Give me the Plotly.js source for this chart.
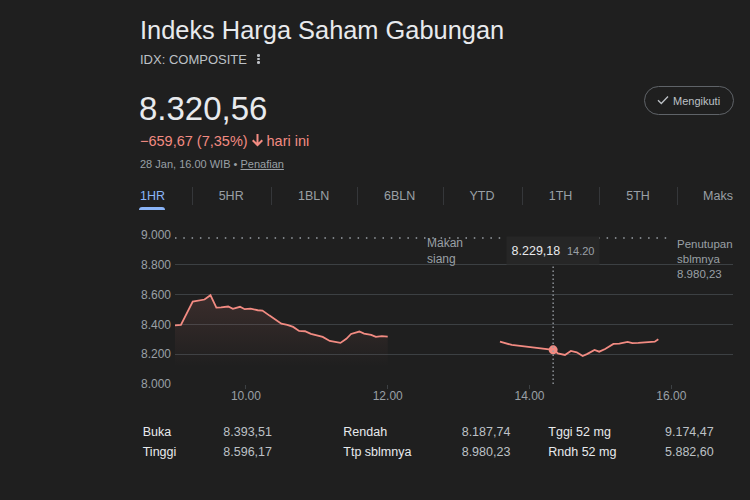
<!DOCTYPE html>
<html><head><meta charset="utf-8">
<script src="https://cdn.plot.ly/plotly-3.0.1.min.js"></script>
<style>
html,body{margin:0;padding:0;background:#1f1f1f;}
body{width:750px;height:500px;overflow:hidden;position:relative;font-family:'Liberation Sans',Arial,sans-serif;}
.t{position:absolute;white-space:nowrap;line-height:1;}
#chart{position:absolute;left:0;top:0;width:750px;height:500px;}
</style></head><body>
<div id="chart"></div>
<div id="ui"></div>
<script>
// ---------- data ----------
const indexName = 'Indeks Harga Saham Gabungan';
const ticker = 'IDX: COMPOSITE';
const lastPrice = 8320.56;
const dayChange = -659.67;
const dayChangePct = 7.35;
const asOfText = '28 Jan, 16.00 WIB';
const prevClose = 8980.23;

const session1Times = ['09:00','09:05','09:15','09:22','09:25','09:30','09:35','09:39','09:45','09:49','09:55','09:59','10:04','10:10','10:14','10:20','10:26','10:30','10:35','10:40','10:45','10:50','10:55','10:59','11:05','11:11','11:15','11:20','11:25','11:29','11:36','11:40','11:46','11:50','11:55','12:00'];
const session1Values = [8393.51,8397,8553,8565,8567,8596.17,8513,8514,8520,8504,8518,8502,8506,8495,8493,8459,8430,8405,8397,8383,8356,8354,8336,8327,8316,8289,8282,8276,8303,8336,8352,8338,8330,8316,8321,8318];

const session2Times = ['13:35','13:45','14:20','14:24','14:30','14:35','14:40','14:45','14:49','14:55','14:59','15:04','15:11','15:16','15:23','15:27','15:32','15:43','15:46','15:49'];
const session2Values = [8284,8262,8229.18,8206,8195,8222,8213,8187.74,8202,8229,8217,8235,8269,8271,8282,8274,8276,8280,8284,8300];

const cursorTime = '14:20';
const xTickTimes = ['10:00','12:00','14:00','16:00'];
const yTickValues = [8000,8200,8400,8600,8800,9000];

const tabLabels = ['1HR','5HR','1BLN','6BLN','YTD','1TH','5TH','Maks'];
const statLabels = ['Buka','Tinggi','Rendah','Ttp sblmnya','Tggi 52 mg','Rndh 52 mg'];
const statValues = [8393.51,8596.17,8187.74,8980.23,9174.47,5882.60];

// ---------- helpers ----------
function fmtId(v, d){
  const neg = v < 0;
  const s = Math.abs(v).toFixed(d);
  const parts = s.split('.');
  const ip = parts[0].replace(/\B(?=(\d{3})+(?!\d))/g, '.');
  return (neg ? '\u2212' : '') + (parts[1] ? ip + ',' + parts[1] : ip);
}
const day = '2026-01-28 ';
const FONT = "'Liberation Sans', Arial, sans-serif";

// ---------- HTML header / tabs / stats ----------
const ui = document.getElementById('ui');
function addText(txt, left, top, size, color, extra){
  const d = document.createElement('div');
  d.className = 't';
  d.style.left = left + 'px'; d.style.top = top + 'px';
  d.style.fontSize = size + 'px'; d.style.color = color;
  if (extra) Object.assign(d.style, extra);
  d.innerHTML = txt;
  ui.appendChild(d);
  return d;
}
function addBox(left, top, w, h, style){
  const d = document.createElement('div');
  d.style.position = 'absolute';
  d.style.left = left + 'px'; d.style.top = top + 'px';
  d.style.width = w + 'px'; d.style.height = h + 'px';
  Object.assign(d.style, style);
  ui.appendChild(d);
  return d;
}

addText(indexName, 140, 17.8, 25.4, '#e8eaed');
addText(ticker, 140, 53, 13, '#bdc1c6');
[55.5, 59, 62.5].forEach(y => addBox(257, y - 1.2, 2.6, 2.6, {background:'#bdc1c6', borderRadius:'50%'}));
addText(fmtId(lastPrice, 2), 139, 91.5, 33, '#e8eaed');
addText(fmtId(dayChange, 2) + ' (' + fmtId(dayChangePct, 2) + '%)', 140, 133.7, 14.5, '#f28b82');
addText('<svg width="11" height="13" viewBox="0 0 11 13"><path d="M4.5 0h2v8.6l3.1-3.1 1.4 1.4-5.5 5.6-5.5-5.6 1.4-1.4 3.1 3.1z" fill="#f28b82"/></svg>', 251.5, 134, 14, '#f28b82');
addText('hari ini', 266.5, 133.7, 14.5, '#f28b82');
addText(asOfText + ' \u2022 <span style="text-decoration:underline">Penafian</span>', 140, 159, 11, '#9aa0a6');

// follow button
addBox(644, 86, 88, 27, {border:'1px solid #5f6368', borderRadius:'15px'});
addText('<svg width="12" height="10" viewBox="0 0 12 10"><path d="M1 5.2l3.3 3.3L11 1.5" fill="none" stroke="#bdc1c6" stroke-width="1.3"/></svg>', 656.5, 95, 11, '#bdc1c6');
addText('Mengikuti', 673, 95.5, 11, '#bdc1c6');

// tabs
const tabCenters = [152.5, 231.2, 313.7, 399.7, 482, 560.5, 638, 718];
const sepX = [191.7, 270.7, 356.7, 442.7, 521.7, 599.3, 676.7];
tabLabels.forEach((lab, i) => {
  addText(lab, tabCenters[i] - 40, 190.1, 12.5, i === 0 ? '#8ab4f8' : '#9aa0a6', {width:'80px', textAlign:'center'});
});
addBox(139, 207, 26, 3, {background:'#8ab4f8', borderRadius:'3px 3px 0 0'});
sepX.forEach(x => addBox(x, 187, 1, 18, {background:'#35373a'}));

// stats grid
const statCols = [[142.7, 223.3], [343.3, 461.7], [548.3, 665]];
const rowTops = [426.4, 446.4];
statLabels.forEach((lab, i) => {
  const c = Math.floor(i / 2), r = i % 2;
  addText(lab, statCols[c][0], rowTops[r], 12.5, '#e8eaed');
  addText(fmtId(statValues[i], 2), statCols[c][1], rowTops[r], 12.5, '#bdc1c6');
});

// ---------- Plotly chart ----------
const lineColor = '#f28b82';
const cursorIdx = session2Times.indexOf(cursorTime);
const cursorValue = session2Values[cursorIdx];

const traces = [
  {type:'scatter', mode:'lines', x:session1Times.map(t => day + t), y:session1Values,
   line:{color:lineColor, width:1.8}, fill:'tozeroy',
   fillgradient:{type:'vertical', start:8120, stop:8600,
     colorscale:[[0,'rgba(242,139,130,0)'],[1,'rgba(242,139,130,0.13)']]},
   hoverinfo:'skip'},
  {type:'scatter', mode:'lines', x:session2Times.map(t => day + t), y:session2Values,
   line:{color:lineColor, width:1.8}, hoverinfo:'skip'},
  {type:'scatter', mode:'markers', x:[day + cursorTime], y:[cursorValue],
   marker:{size:9, color:lineColor}, hoverinfo:'skip'}
];

const plotTop = 235, plotH = 149;
const py = p => (plotTop + plotH - p) / plotH;   // pixel -> paper y
const px = p => (p - 175) / 558;                 // pixel -> paper x

const layout = {
  width:750, height:500,
  margin:{l:175, r:17, t:plotTop, b:500 - plotTop - plotH, pad:0},
  paper_bgcolor:'rgba(0,0,0,0)', plot_bgcolor:'rgba(0,0,0,0)',
  showlegend:false, separators:',.',
  font:{family:FONT, color:'#9aa0a6', size:12},
  xaxis:{type:'date', range:[day + '09:00', day + '16:52:12'],
    tickvals:xTickTimes.map(t => day + t), tickformat:'%H.%M',
    showgrid:false, zeroline:false, showline:false,
    ticks:'outside', ticklen:4, tickcolor:'#3c4043', ticklabelstandoff:-3,
    tickfont:{family:FONT, size:12, color:'#9aa0a6'}, fixedrange:true},
  yaxis:{range:[8000, 9000], tickvals:yTickValues, tickformat:',.0f',
    showgrid:true, gridcolor:'#3c4043', gridwidth:1, zeroline:false, showline:false,
    ticks:'', ticklabelstandoff:3,
    tickfont:{family:FONT, size:12, color:'#9aa0a6'}, fixedrange:true},
  shapes:[
    {type:'line', xref:'x', yref:'y', x0:day + '09:00', x1:day + '16:00', y0:prevClose, y1:prevClose,
     line:{color:'#9aa0a6', width:1.5, dash:'1.5px,6.8px'}},
    {type:'line', xref:'x', yref:'paper', x0:day + cursorTime, x1:day + cursorTime, y0:0, y1:py(265),
     line:{color:'#9aa0a6', width:1.3, dash:'1.5px,2.5px'}}
  ],
  annotations:[
    {xref:'paper', yref:'paper', x:px(425), y:py(234), xanchor:'left', yanchor:'top', align:'left',
     showarrow:false, text:'Makan<br>siang', font:{family:FONT, size:12, color:'#9aa0a6'}},
    {xref:'paper', yref:'paper', x:px(675), y:py(236), xanchor:'left', yanchor:'top', align:'left',
     showarrow:false, text:'Penutupan<br>sblmnya<br>' + fmtId(prevClose, 2), font:{family:FONT, size:11.5, color:'#9aa0a6'}},
    {xref:'x', yref:'paper', x:day + cursorTime, y:py(250.5), xanchor:'center', yanchor:'middle',
     showarrow:false, width:92, height:27, bgcolor:'#262626', borderpad:0,
     text:'<span style="color:#e8eaed;font-size:12.5px">' + fmtId(cursorValue, 2) + '</span>\u00a0\u00a0<span style="color:#9aa0a6;font-size:11px">' + cursorTime.replace(':', '.') + '</span>',
     font:{family:FONT, size:12, color:'#9aa0a6'}}
  ]
};

Plotly.newPlot('chart', traces, layout, {displayModeBar:false, staticPlot:true});
</script>
</body></html>
